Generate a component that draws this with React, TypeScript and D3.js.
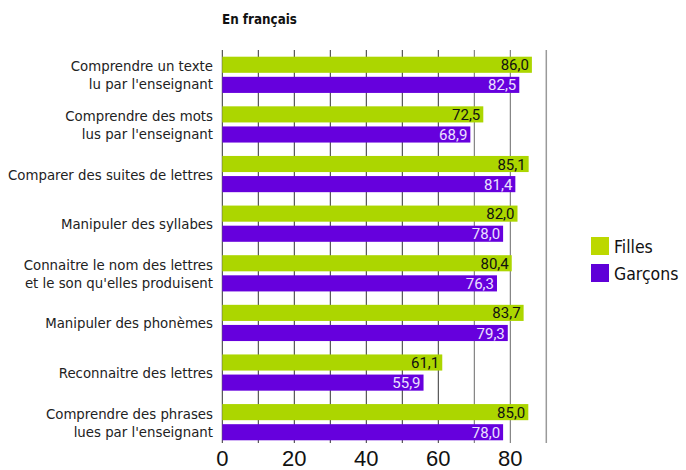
import React from "react";
import * as d3 from "d3";

const categories: string[][] = [
  ["Comprendre un texte", "lu par l'enseignant"],
  ["Comprendre des mots", "lus par l'enseignant"],
  ["Comparer des suites de lettres"],
  ["Manipuler des syllabes"],
  ["Connaitre le nom des lettres", "et le son qu'elles produisent"],
  ["Manipuler des phonèmes"],
  ["Reconnaitre des lettres"],
  ["Comprendre des phrases", "lues par l'enseignant"],
];
const filles = [86.0, 72.5, 85.1, 82.0, 80.4, 83.7, 61.1, 85.0];
const garcons = [82.5, 68.9, 81.4, 78.0, 76.3, 79.3, 55.9, 78.0];
const seriesNames = ["Filles", "Garçons"];
const tickLabels = [0, 20, 40, 60, 80];
const gridValues = [0, 10, 20, 30, 40, 50, 60, 70, 80, 90];
const title = "En français";

const GREEN = "#acd600";
const PURPLE = "#6600dd";
const FONT = "'Liberation Sans', Arial, sans-serif";
const NARROW = "'DejaVu Sans Condensed', 'DejaVu Sans', sans-serif";

export default function App() {
  const W = 686, H = 470;
  const x = d3.scaleLinear().domain([0, 80]).range([222.3, 510.3]);
  const y = d3.scaleBand<number>()
    .domain(d3.range(categories.length))
    .range([50, 447])
    .paddingInner(0.27)
    .paddingOuter(0.135);
  const bw = y.bandwidth();
  const barH = (bw - 4) / 2;
  const fmt = (v: number) => v.toFixed(1).replace(".", ",");

  return (
    <svg width={W} height={H} style={{ position: "absolute", left: 0, top: 0, background: "#fff" }}>
      <text x={222} y={24} fontFamily={NARROW} fontWeight="bold" fontSize={13.3} fill="#111">{title}</text>
      {gridValues.map((g) => (
        <line key={g} x1={x(g)} x2={x(g)} y1={50} y2={443}
          stroke={g === 90 ? "#9a9a9a" : g >= 70 ? "#6a6a6a" : "#333"} strokeWidth={g === 90 ? 1.5 : 1} />
      ))}
      {categories.map((lines, i) => {
        const y0 = y(i)!;
        const cy = y0 + bw / 2;
        return (
          <g key={i}>
            <rect x={x(0)} y={y0} width={x(filles[i]) - x(0)} height={barH} fill={GREEN} />
            <rect x={x(0)} y={y0 + barH + 4} width={x(garcons[i]) - x(0)} height={barH} fill={PURPLE} />
            <text x={x(filles[i]) - 3} y={y0 + barH - 2.5} textAnchor="end" fontFamily="Roboto, sans-serif" fontSize={15} fill="#111">{fmt(filles[i])}</text>
            <text x={x(garcons[i]) - 3} y={y0 + 2 * barH + 4 - 2.5} textAnchor="end" fontFamily="Roboto, sans-serif" fontSize={15} fill="#ece0ff">{fmt(garcons[i])}</text>
            {lines.map((l, j) => (
              <text key={j} x={213} y={cy + 5.5 + (j - (lines.length - 1) / 2) * 18}
                textAnchor="end" fontFamily={NARROW} fontSize={14.8} fill="#222">{l}</text>
            ))}
          </g>
        );
      })}
      {tickLabels.map((t) => (
        <text key={t} x={x(t)} y={466} textAnchor="middle" fontFamily={FONT} fontSize={22} fill="#111">{t}</text>
      ))}
      {seriesNames.map((s, i) => (
        <g key={s}>
          <rect x={591} y={237 + i * 27} width={18} height={18} fill={i === 0 ? "#bcd800" : "#5f00d8"} />
          <text x={614} y={252.5 + i * 27} fontFamily={NARROW} fontSize={17.5} fill="#111">{s}</text>
        </g>
      ))}
    </svg>
  );
}
